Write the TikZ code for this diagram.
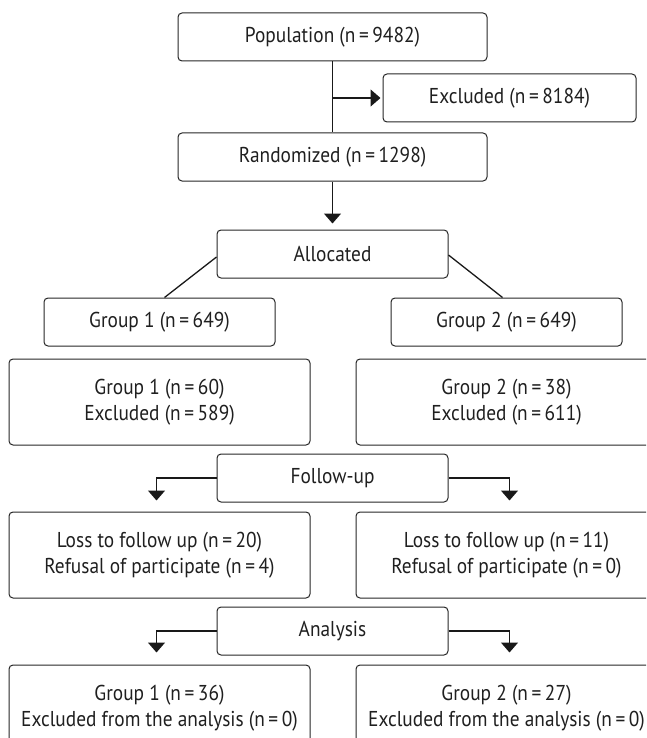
\documentclass[tikz,border=0pt]{standalone}
\usepackage{fontspec}
\setmainfont{PT Sans}[FakeStretch=0.9]
\usetikzlibrary{arrows.meta, positioning}

\begin{document}
\begin{tikzpicture}[
    x=1pt, y=-1pt,
    >={Triangle[width=17pt,length=10pt]},
    % Styles
    box/.style={rounded corners=4pt, draw=black!85, line width=1pt, minimum height=48pt, minimum width=#1, inner sep=0pt, font=\fontsize{21.5}{26}\selectfont, text=black!88, align=center},
    box/.default=231pt,
    tallbox/.style={box=301pt, minimum height=86pt},
    link/.style={line width=1.3pt, draw=black!90},
    arrow/.style={->, link},
]
\path[use as bounding box, clip] (0,0) rectangle (646,738);

% ── Enrolment ──
\node[box=309pt] (pop) at (332.5,37) {Population (n\,=\,9482)};
\node[box=253pt] (excl) at (509.5,98) {Excluded (n\,=\,8184)};
\node[box=309pt, below=71pt of pop] (rand) {Randomized (n\,=\,1298)};

\draw[link] (pop) -- (rand);
\draw[arrow, shorten >=2pt] (excl.west -| pop.south) -- (excl);

% ── Allocation ──
\node[box, below=48pt of rand] (alloc) {Allocated};
\node[box, below=19pt of alloc, xshift=-173pt] (grp1) {Group 1 (n\,=\,649)};
\node[box, below=19pt of alloc, xshift=174pt] (grp2) {Group 2 (n\,=\,649)};
\node[tallbox, below=12pt of grp1] (alc1) {Group 1 (n\,=\,60)\\Excluded (n\,=\,589)};
\node[tallbox, below=12pt of grp2] (alc2) {Group 2 (n\,=\,38)\\Excluded (n\,=\,611)};

\draw[arrow, shorten >=6pt] (rand) -- (alloc);
\draw[link] ([yshift=-3pt]alloc.west) -- ([xshift=5pt]grp1.north);
\draw[link] ([yshift=-1pt]alloc.east) -- ([xshift=-4pt]grp2.north);

% ── Follow-up ──
\node[box, below=175pt of alloc] (follow) {Follow-up};
\node[tallbox, below=9pt of follow, xshift=-173pt] (loss1) {Loss to follow up (n\,=\,20)\\Refusal of participate (n\,=\,4)};
\node[tallbox, below=9pt of follow, xshift=174pt] (loss2) {Loss to follow up (n\,=\,11)\\Refusal of participate (n\,=\,0)};

\draw[arrow, shorten >=11pt] (follow.west) -| ([xshift=-3pt]loss1.north);
\draw[arrow, shorten >=11pt] (follow.east) -| ([xshift=3pt]loss2.north);

% ── Analysis ──
\node[box, below=104pt of follow] (anal) {Analysis};
\node[tallbox, below=9pt of anal, xshift=-173pt] (res1) {Group 1 (n\,=\,36)\\Excluded from the analysis (n\,=\,0)};
\node[tallbox, below=9pt of anal, xshift=174pt] (res2) {Group 2 (n\,=\,27)\\Excluded from the analysis (n\,=\,0)};

\draw[arrow, shorten >=12pt] (anal.west) -| ([xshift=-3pt]res1.north);
\draw[arrow, shorten >=12pt] (anal.east) -| ([xshift=3pt]res2.north);

\end{tikzpicture}
\end{document}
